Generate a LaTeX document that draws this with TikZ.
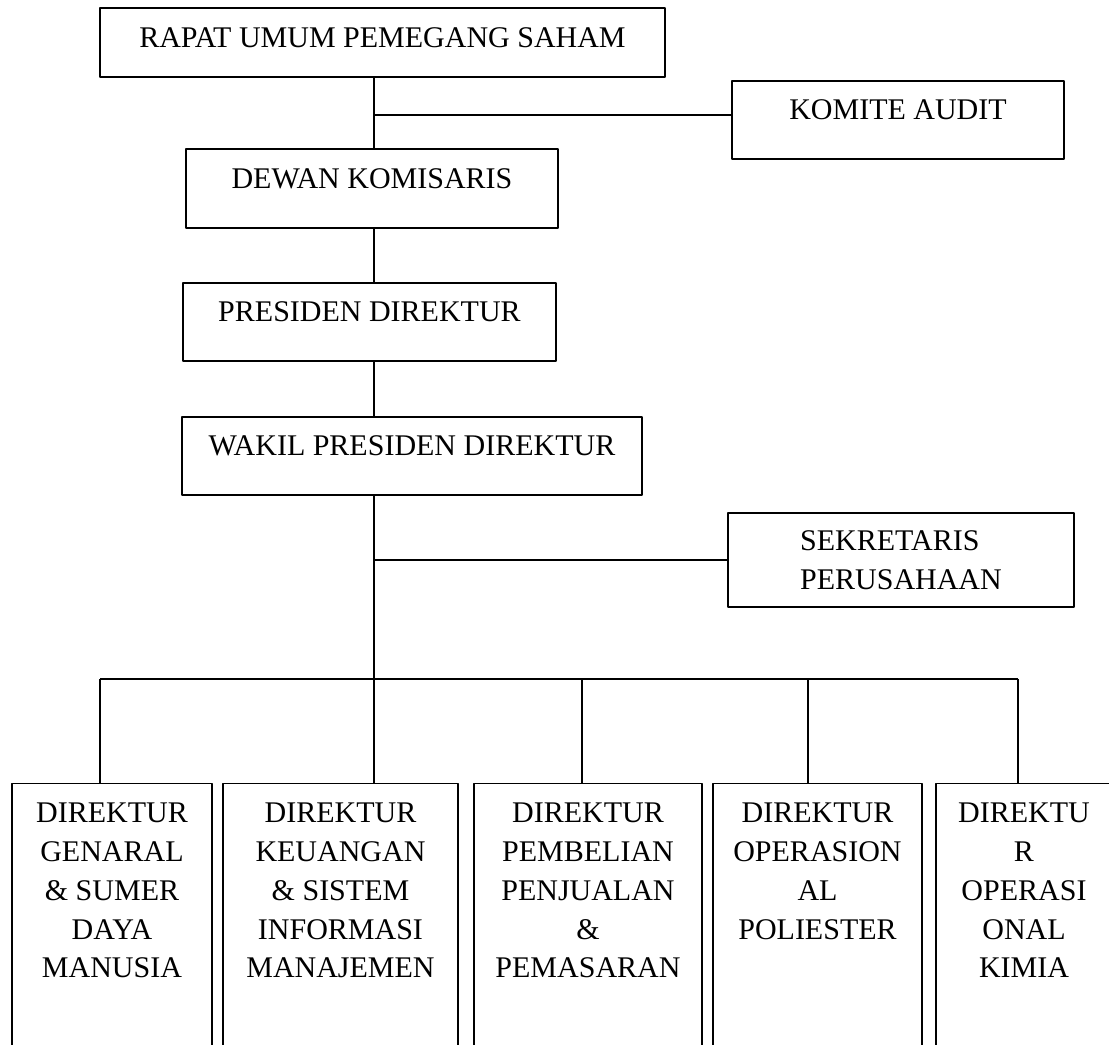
\documentclass[tikz,border=0pt]{standalone}
\usepackage{fontspec}
\setmainfont{Liberation Serif}
\begin{document}
\begin{tikzpicture}[x=0.4pt, y=-0.4pt, font=\fontsize{12}{15.5}\selectfont, line width=0.6pt, line join=round,
	box/.style={draw, minimum height=31.2pt, text height=8pt, text depth=8pt},
	dirbox/.style={draw, anchor=north, align=center, inner sep=0pt, text height=#1, text depth=130pt}]
	\useasboundingbox (0,0) rectangle (1109,1045);
	% bagian atas
	\node[box, minimum width=226pt, minimum height=27.6pt, text depth=4pt] (rups) at (382.5,42.5) {RAPAT UMUM PEMEGANG SAHAM};
	\node[box, minimum width=132.8pt] (komite) at (898,120) {KOMITE AUDIT};
	\node[box, minimum width=148.8pt, minimum height=31.6pt] (dewan) at (372,188.5) {DEWAN KOMISARIS};
	\node[box, minimum width=149.2pt] (presiden) at (369.5,322) {PRESIDEN DIREKTUR};
	\node[box, minimum width=184pt] (wakil) at (412,456) {WAKIL PRESIDEN DIREKTUR};
	\node[draw, align=left, minimum width=138.4pt, minimum height=37.6pt] (sekretaris) at (901,560) {SEKRETARIS\\PERUSAHAAN};
	% direktur
	\node[dirbox=77.6pt, minimum width=80pt] (d1) at (112,783) {DIREKTUR\\GENARAL\\\& SUMER\\DAYA\\MANUSIA};
	\node[dirbox=77.6pt, minimum width=94pt] (d2) at (340.5,783) {DIREKTUR\\KEUANGAN\\\& SISTEM\\INFORMASI\\MANAJEMEN};
	\node[dirbox=77.6pt, minimum width=91.2pt] (d3) at (588,783) {DIREKTUR\\PEMBELIAN\\PENJUALAN\\\&\\PEMASARAN};
	\node[dirbox=62.1pt, minimum width=83.6pt] (d4) at (817.5,783) {DIREKTUR\\OPERASION\\AL\\POLIESTER};
	\node[dirbox=77.6pt, minimum width=70.4pt] (d5) at (1024,783) {DIREKTU\\R\\OPERASI\\ONAL\\KIMIA};
	% garis
	\coordinate (trunk) at (374,0);
	\coordinate (ka) at (374,115);
	\coordinate (busL) at (100,679);
	\coordinate (busR) at (1018,679);
	\draw (rups.south -| trunk) -- (dewan.north -| trunk);
	\draw (dewan.south -| trunk) -- (presiden.north -| trunk);
	\draw (presiden.south -| trunk) -- (wakil.north -| trunk);
	\draw (wakil.south -| trunk) -- (trunk |- busL);
	\draw (ka) -- (ka -| komite.west);
	\draw (trunk |- sekretaris.west) -- (sekretaris.west);
	\draw (busL) -- (busR);
	\foreach \n/\x in {d1/100, d2/374, d3/582, d4/808, d5/1018}{
		\path (\x,0) coordinate (p);
		\draw (p |- busL) -- (p |- \n.north);
	}
\end{tikzpicture}
\end{document}
